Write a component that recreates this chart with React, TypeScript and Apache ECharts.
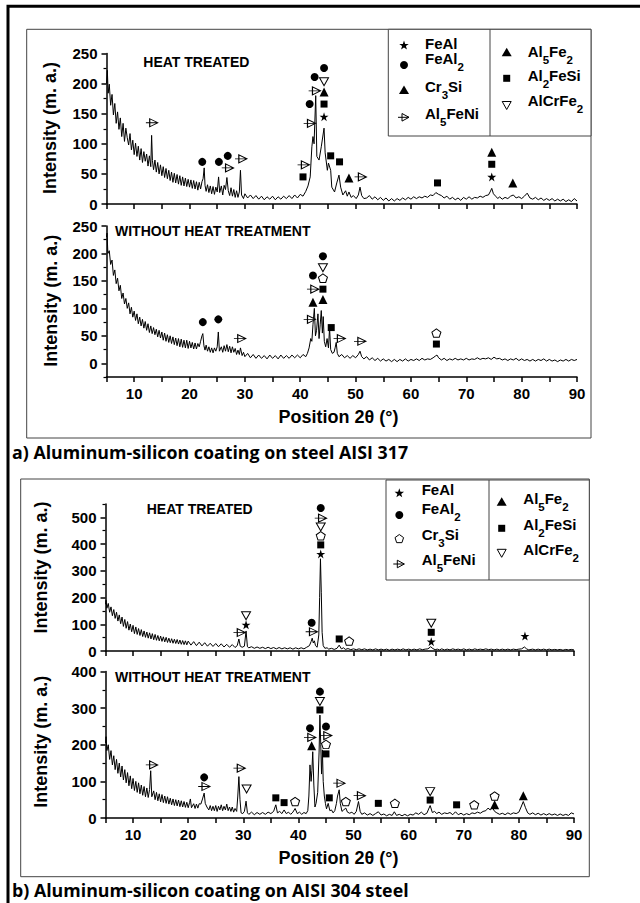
import React, { useEffect, useRef } from "react";
import * as echarts from "echarts";

const SANS = '"Liberation Sans", Arial, Helvetica, sans-serif';
const CAP = '"Open Sans", Lato, sans-serif';

// ---------- axes ----------
const xMin = 5;
const xMax = 90;
const xStep = 5;
const xLabelStep = 10;

const aTopYMajor = [0, 50, 100, 150, 200, 250];
const aTopYMinor = [25, 75, 125, 175, 225];
const aBotYMajor = [0, 50, 100, 150, 200, 250];
const aBotYMinor = [-25, 25, 75, 125, 175, 225];
const bTopYMajor = [0, 100, 200, 300, 400, 500];
const bTopYMinor = [50, 150, 250, 350, 450, 550];
const bBotYMajor = [0, 100, 200, 300, 400];
const bBotYMinor = [50, 150, 250, 350];
const yRanges = [[0, 250], [-25, 250], [0, 550], [0, 400]];

// ---------- diffraction patterns ----------
const aHeatTreated = [
  [5,200],[5.15,222],[5.3,184],[5.5,199],[5.75,164],[6,182],[6.25,148],[6.5,167],[6.75,134],[7,153],[7.25,124],[7.5,143],[7.75,112],[8,134],[8.25,104],[8.5,126],[8.75,110],[9,98],[9.25,117],[9.5,90],[9.75,106],[10,82],[10.25,101],[10.5,79],[10.75,96],[11,73],[11.25,92],[11.5,69],[11.75,87],[12,71],[12.25,83],[12.5,63],[12.75,80],[13,62],[13.15,114],[13.3,72],[13.5,57],[13.75,73],[14,53],[14.25,69],[14.5,50],[14.75,65],[15,47],[15.25,62],[15.5,44],[15.75,59],[16,42],[16.25,56],[16.5,39],[16.75,53],[17,36],[17.25,51],[17.5,35],[17.75,49],[18,33],[18.25,47],[18.5,31],[18.75,45],[19,30],[19.25,43],[19.5,29],[19.75,41],[20,28],[20.25,40],[20.5,26],[20.75,39],[21,25],[21.25,37],[21.5,23],[21.75,36],[22,25],[22.25,37],[22.45,42],[22.65,60],[22.8,31],[23,21],[23.25,32],[23.5,19],[23.75,30],[24,17],[24.25,29],[24.5,16],[24.75,28],[25,20],[25.25,45],[25.45,19],[25.75,30],[26,15],[26.25,31],[26.5,24],[26.75,44],[27,22],[27.25,14],[27.5,27],[27.75,13],[28,24],[28.25,11],[28.5,22],[28.75,11],[29,20],[29.2,56],[29.4,15],[29.75,9],[30,17],[30.5,10],[31,15],[31.5,9],[32,14],[32.5,8],[33,13],[33.5,7],[34,12],[34.5,8],[35,13],[35.5,7],[36,12],[36.5,8],[37,13],[37.5,9],[38,14],[38.5,9],[39,15],[39.5,10],[40,16],[40.5,13],[41,21],[41.4,30],[41.8,45],[42.1,95],[42.3,112],[42.5,100],[42.8,180],[43,79],[43.4,73],[43.8,95],[44.3,126],[44.5,85],[44.9,56],[45.1,68],[45.5,56],[45.7,28],[46.2,20],[46.6,35],[47,48],[47.3,28],[47.7,15],[48.2,22],[48.5,13],[48.8,20],[49.2,11],[49.6,14],[50.1,9],[50.5,15],[50.8,28],[51.1,14],[51.5,9],[52,10],[52.5,14],[53,8],[53.5,12],[54,7],[54.5,11],[55,6],[55.5,10],[56,5],[56.5,9],[57,5],[57.5,9],[58,6],[58.5,10],[59,7],[59.5,11],[60,8],[60.5,12],[61,9],[61.5,12],[62,10],[62.5,13],[63,11],[63.5,15],[64,14],[64.5,19],[65,16],[65.5,14],[66,10],[66.5,13],[67,8],[67.5,11],[68,7],[68.5,10],[69,6],[69.5,11],[70,8],[70.5,12],[71,8],[71.5,11],[72,10],[72.5,13],[73,11],[73.5,14],[74,15],[74.3,20],[74.6,26],[74.9,17],[75.3,13],[75.7,9],[76,12],[76.5,8],[77,11],[77.5,9],[78,13],[78.5,15],[79,10],[79.5,12],[80,9],[80.5,13],[81,18],[81.5,10],[82,8],[82.5,11],[83,7],[83.5,10],[84,6],[84.5,9],[85,6],[85.5,9],[86,5],[86.5,8],[87,5],[87.5,8],[88,4],[88.5,7],[89,4],[89.5,9],[90,5]
];

const aNoHeat = [
  [5,230],[5.1,237],[5.25,200],[5.5,205],[5.75,180],[6,188],[6.25,160],[6.5,170],[6.75,145],[7,155],[7.25,132],[7.5,142],[7.75,118],[8,128],[8.25,108],[8.5,118],[8.75,100],[9,110],[9.25,90],[9.5,102],[9.75,84],[10,95],[10.25,78],[10.5,90],[10.75,72],[11,84],[11.25,68],[11.5,80],[11.75,64],[12,76],[12.25,60],[12.5,72],[12.75,56],[13,68],[13.25,54],[13.5,65],[13.75,52],[14,62],[14.25,48],[14.5,60],[14.75,46],[15,57],[15.25,42],[15.5,55],[15.75,40],[16,52],[16.25,38],[16.5,50],[16.75,36],[17,48],[17.25,34],[17.5,46],[17.75,32],[18,45],[18.25,30],[18.5,44],[18.75,29],[19,42],[19.25,28],[19.5,42],[19.75,27],[20,40],[20.25,28],[20.5,38],[20.75,26],[21,37],[21.25,26],[21.5,36],[21.75,30],[22,40],[22.25,50],[22.4,54],[22.6,32],[22.8,24],[23,33],[23.25,22],[23.5,30],[23.75,20],[24,28],[24.25,19],[24.5,28],[24.75,22],[25,30],[25.2,57],[25.4,22],[25.75,30],[26,20],[26.25,32],[26.5,22],[26.75,34],[27,21],[27.25,31],[27.5,19],[27.75,30],[28,20],[28.25,27],[28.5,16],[28.75,24],[29,16],[29.2,28],[29.5,14],[29.75,20],[30,12],[30.5,18],[31,10],[31.5,16],[32,9],[32.5,15],[33,9],[33.5,14],[34,8],[34.5,15],[35,9],[35.5,14],[36,8],[36.5,15],[37,9],[37.5,14],[38,9],[38.5,15],[39,10],[39.5,15],[40,10],[40.5,16],[41,12],[41.3,18],[41.6,28],[41.9,45],[42.1,40],[42.3,70],[42.55,100],[42.75,50],[42.95,60],[43.2,90],[43.4,45],[43.6,70],[43.8,96],[44,55],[44.15,85],[44.35,40],[44.6,30],[44.85,45],[45.1,28],[45.3,64],[45.5,25],[45.8,18],[46.1,20],[46.3,28],[46.5,38],[46.7,18],[47,12],[47.5,16],[48,10],[48.5,14],[49,9],[49.5,14],[50,10],[50.5,16],[50.8,22],[51.1,12],[51.5,8],[52,12],[52.5,6],[53,10],[53.5,5],[54,9],[54.5,4],[55,8],[55.5,4],[56,7],[56.5,3],[57,7],[57.5,3],[58,7],[58.5,4],[59,8],[59.5,4],[60,7],[60.5,5],[61,8],[61.5,5],[62,9],[62.5,6],[63,8],[63.5,7],[64,10],[64.4,13],[64.7,15],[65,10],[65.5,6],[66,9],[66.5,5],[67,8],[67.5,6],[68,9],[68.5,6],[69,8],[69.5,6],[70,9],[70.5,6],[71,8],[71.5,7],[72,10],[72.5,7],[73,9],[73.5,8],[74,10],[74.5,7],[75,11],[75.5,8],[76,9],[76.5,6],[77,8],[77.5,5],[78,8],[78.5,6],[79,9],[79.5,5],[80,8],[80.5,5],[81,7],[81.5,4],[82,7],[82.5,4],[83,7],[83.5,5],[84,8],[84.5,4],[85,7],[85.5,4],[86,6],[86.5,3],[87,6],[87.5,4],[88,7],[88.5,4],[89,7],[89.5,5],[90,7]
];

const bHeatTreated = [
  [5,175],[5.1,190],[5.25,160],[5.5,178],[5.75,145],[6,165],[6.25,132],[6.5,155],[6.75,122],[7,145],[7.25,112],[7.5,135],[7.75,102],[8,127],[8.25,92],[8.5,118],[8.75,85],[9,110],[9.25,78],[9.5,101],[9.75,72],[10,96],[10.25,65],[10.5,90],[10.75,62],[11,84],[11.25,58],[11.5,80],[11.75,54],[12,75],[12.25,51],[12.5,71],[12.75,48],[13,68],[13.25,45],[13.5,65],[13.75,42],[14,62],[14.25,40],[14.5,58],[14.75,38],[15,56],[15.25,36],[15.5,53],[15.75,34],[16,51],[16.25,32],[16.5,48],[16.75,31],[17,46],[17.25,29],[17.5,44],[17.75,28],[18,43],[18.25,26],[18.5,41],[18.75,25],[19,39],[19.25,24],[19.5,38],[19.75,23],[20,37],[20.5,22],[21,35],[21.5,20],[22,33],[22.5,19],[23,31],[23.5,18],[24,29],[24.5,17],[25,28],[25.5,16],[26,27],[26.5,15],[27,25],[27.5,14],[28,24],[28.5,13],[28.9,20],[29.2,45],[29.45,18],[29.8,14],[30.2,18],[30.5,75],[30.75,16],[31,12],[31.5,16],[32,10],[32.5,15],[33,10],[33.5,14],[34,9],[34.5,14],[35,9],[35.5,13],[36,8],[36.5,13],[37,8],[37.5,12],[38,8],[38.5,12],[39,7],[39.5,12],[40,8],[40.5,12],[41,8],[41.5,14],[42,20],[42.3,35],[42.5,48],[42.7,30],[42.9,38],[43.1,20],[43.4,14],[43.7,60],[43.85,200],[44,345],[44.15,220],[44.3,70],[44.5,20],[44.8,10],[45.2,12],[45.5,7],[46,10],[46.5,6],[47,10],[47.4,22],[47.8,8],[48.2,12],[48.5,6],[49,9],[49.5,5],[50,8],[50.5,5],[51,8],[51.5,5],[52,8],[52.5,4],[53,7],[53.5,4],[54,8],[54.5,4],[55,7],[55.5,4],[56,7],[56.5,3],[57,7],[57.5,4],[58,7],[58.5,4],[59,8],[59.5,4],[60,7],[60.5,4],[61,7],[61.5,4],[62,8],[62.5,5],[63,7],[63.5,8],[64,16],[64.4,9],[64.8,5],[65.2,7],[65.6,4],[66,8],[66.5,4],[67,7],[67.5,4],[68,8],[68.5,5],[69,7],[69.5,4],[70,8],[70.5,4],[71,7],[71.5,4],[72,8],[72.5,5],[73,7],[73.5,5],[74,8],[74.5,5],[75,7],[75.5,4],[76,7],[76.5,4],[77,7],[77.5,4],[78,7],[78.5,4],[79,7],[79.5,5],[80,7],[80.5,8],[81,15],[81.4,8],[81.8,4],[82.5,7],[83,4],[83.5,7],[84,4],[84.5,7],[85,4],[85.5,7],[86,4],[86.5,6],[87,4],[87.5,6],[88,3],[88.5,6],[89,4],[89.5,6],[90,4]
];

const bNoHeat = [
  [5,205],[5.1,222],[5.25,184],[5.5,200],[5.75,160],[6,184],[6.25,145],[6.5,170],[6.75,132],[7,160],[7.25,122],[7.5,150],[7.75,112],[8,142],[8.25,104],[8.5,132],[8.75,96],[9,124],[9.25,88],[9.5,115],[9.75,80],[10,108],[10.25,75],[10.5,100],[10.75,70],[11,96],[11.25,66],[11.5,90],[11.75,62],[12,86],[12.25,58],[12.5,82],[12.75,56],[13,78],[13.2,129],[13.4,58],[13.75,74],[14,50],[14.25,70],[14.5,47],[14.75,66],[15,44],[15.25,64],[15.5,42],[15.75,60],[16,40],[16.25,58],[16.5,38],[16.75,54],[17,36],[17.25,52],[17.5,34],[17.75,50],[18,33],[18.25,49],[18.5,31],[18.75,47],[19,30],[19.25,45],[19.5,29],[19.75,43],[20,28],[20.25,42],[20.4,52],[20.6,28],[21,39],[21.25,26],[21.5,38],[21.75,27],[22,39],[22.3,38],[22.6,52],[22.9,68],[23.1,40],[23.4,30],[23.75,22],[24,34],[24.25,20],[24.5,32],[24.75,20],[25,34],[25.25,18],[25.5,32],[25.75,22],[26,36],[26.25,20],[26.5,32],[26.75,22],[27,38],[27.25,20],[27.5,30],[27.75,18],[28,30],[28.25,16],[28.5,26],[28.8,18],[29,60],[29.2,113],[29.4,50],[29.6,14],[29.9,12],[30.2,18],[30.5,46],[30.75,14],[31,10],[31.5,16],[32,9],[32.5,15],[33,10],[33.5,15],[34,10],[34.5,16],[35,12],[35.5,18],[35.9,36],[36.2,14],[36.6,18],[37,12],[37.4,22],[37.8,12],[38.2,16],[38.6,10],[39,16],[39.4,26],[39.8,12],[40.2,16],[40.6,10],[41,15],[41.4,12],[41.7,20],[41.9,60],[42.1,145],[42.3,100],[42.45,130],[42.6,181],[42.8,90],[43,30],[43.2,40],[43.5,70],[43.75,180],[43.9,281],[44.05,200],[44.2,120],[44.35,186],[44.5,100],[44.7,60],[44.9,40],[45.1,25],[45.4,40],[45.7,20],[46,22],[46.3,14],[46.6,20],[46.9,40],[47.1,60],[47.4,77],[47.6,40],[47.9,18],[48.2,22],[48.6,27],[48.9,16],[49.3,13],[49.7,16],[50.1,10],[50.5,18],[50.9,45],[51.2,18],[51.5,10],[52,14],[52.5,8],[53,12],[53.5,7],[54,12],[54.5,17],[55,8],[55.5,11],[56,6],[56.5,10],[57,7],[57.4,17],[57.8,7],[58.3,10],[58.8,6],[59.3,10],[59.8,6],[60.3,10],[60.8,8],[61.3,14],[61.8,10],[62.3,16],[62.8,9],[63.3,13],[63.9,34],[64.3,15],[64.7,18],[65.1,12],[65.5,16],[66,10],[66.5,14],[67,12],[67.5,15],[68,9],[68.5,17],[69,9],[69.5,13],[70,8],[70.5,12],[71,9],[71.5,14],[72,12],[72.5,16],[73,13],[73.5,18],[74,20],[74.4,27],[74.8,22],[75.2,28],[75.6,18],[76,14],[76.5,10],[77,13],[77.5,9],[78,14],[78.5,10],[79,14],[79.5,12],[80,16],[80.4,30],[80.8,45],[81.2,28],[81.6,14],[82,10],[82.5,14],[83,9],[83.5,13],[84,8],[84.5,12],[85,8],[85.5,12],[86,8],[86.5,11],[87,7],[87.5,11],[88,7],[88.5,10],[89,7],[89.5,14],[90,11]
];

// ---------- phase markers (x = 2θ, y = intensity) ----------
const aTopFeAl = [[44.3, 145], [74.6, 45]];
const aTopFeAl2 = [[22.3, 70], [25.3, 70], [26.9, 80], [41.7, 166], [42.6, 211], [44.3, 226]];
const aTopAl5Fe2 = [[44.3, 186], [48.8, 43], [74.6, 86], [78.4, 35]];
const aTopAl5FeNi = [[13.2, 135], [26.9, 60], [29.3, 75], [40.6, 65], [41.7, 134], [42.6, 188], [50.9, 45]];
const aTopAl2FeSi = [[40.5, 45], [44.3, 166], [45.5, 80], [47.1, 70], [64.8, 35], [74.6, 66]];
const aTopAlCrFe2 = [[44.3, 203]];

const aBotFeAl2 = [[22.4, 75], [25.2, 80], [42.3, 160], [44.1, 195]];
const aBotAl5Fe2 = [[42.3, 111], [44.1, 116]];
const aBotAl5FeNi = [[29.1, 45], [41.7, 80], [42.3, 135], [47.1, 45], [50.8, 40]];
const aBotAl2FeSi = [[44.1, 135], [45.6, 65], [64.6, 35]];
const aBotCr3Si = [[44.1, 155], [64.6, 55]];
const aBotAlCrFe2 = [[44.1, 174]];

const bTopFeAl = [[30.5, 98], [44.05, 363], [64.1, 35], [81.1, 56]];
const bTopFeAl2 = [[42.4, 106], [44.05, 535]];
const bTopAl5FeNi = [[29.3, 69], [42.4, 72], [44.05, 497]];
const bTopAlCrFe2 = [[30.5, 132], [44.05, 464], [64.1, 104]];
const bTopCr3Si = [[44.05, 431], [49.2, 37]];
const bTopAl2FeSi = [[44.05, 397], [47.4, 45], [64.1, 70]];

const bBotFeAl2 = [[22.9, 111], [42.1, 245], [43.9, 345], [45.0, 250]];
const bBotAl5FeNi = [[13.4, 145], [22.9, 86], [29.3, 136], [42.1, 220], [45.0, 225], [47.4, 95], [51.1, 61]];
const bBotAlCrFe2 = [[30.6, 79], [43.9, 318], [63.9, 72]];
const bBotAl2FeSi = [[35.9, 55], [37.4, 42], [43.9, 295], [45.0, 175], [45.6, 55], [54.5, 40], [63.9, 49], [68.7, 36]];
const bBotCr3Si = [[39.4, 45], [45.0, 201], [48.6, 45], [57.5, 40], [71.9, 36], [75.6, 60]];
const bBotAl5Fe2 = [[42.4, 197], [75.6, 36], [80.8, 61]];

const STAR = "path://M50,0L61.2,34.5L97.6,34.5L68.2,55.9L79.4,90.5L50,69.1L20.6,90.5L31.8,55.9L2.4,34.5L38.8,34.5Z";
const RTRI = "path://M32,8L100,50L32,92ZM0,50L100,50";
const DTRI = "path://M0,0L100,0L50,90Z";
const PENTA = "path://M50,0L97.6,34.5L79.4,90.5L20.6,90.5L2.4,34.5Z";

const SYM: any = {
  star: { symbol: STAR, size: 9, filled: true },
  circle: { symbol: "circle", size: 8, filled: true },
  tri: { symbol: "triangle", size: 9, filled: true },
  square: { symbol: "rect", size: 7, filled: true },
  rtri: { symbol: RTRI, size: [12, 8], filled: false },
  dtri: { symbol: DTRI, size: [9, 8], filled: false },
  penta: { symbol: PENTA, size: [9, 8.5], filled: false },
};

const markerSets: any[] = [
  [0, "star", aTopFeAl], [0, "circle", aTopFeAl2], [0, "tri", aTopAl5Fe2], [0, "rtri", aTopAl5FeNi], [0, "square", aTopAl2FeSi], [0, "dtri", aTopAlCrFe2],
  [1, "circle", aBotFeAl2], [1, "tri", aBotAl5Fe2], [1, "rtri", aBotAl5FeNi], [1, "square", aBotAl2FeSi], [1, "penta", aBotCr3Si], [1, "dtri", aBotAlCrFe2],
  [2, "star", bTopFeAl], [2, "circle", bTopFeAl2], [2, "rtri", bTopAl5FeNi], [2, "dtri", bTopAlCrFe2], [2, "penta", bTopCr3Si], [2, "square", bTopAl2FeSi],
  [3, "circle", bBotFeAl2], [3, "rtri", bBotAl5FeNi], [3, "dtri", bBotAlCrFe2], [3, "square", bBotAl2FeSi], [3, "penta", bBotCr3Si], [3, "tri", bBotAl5Fe2],
];

const patterns = [aHeatTreated, aNoHeat, bHeatTreated, bNoHeat];
const yMajor = [aTopYMajor, aBotYMajor, bTopYMajor, bBotYMajor];
const yMinor = [aTopYMinor, aBotYMinor, bTopYMinor, bBotYMinor];

// ---------- layout ----------
const grids = [
  { left: 106.5, top: 53.5, width: 470.5, height: 150.5 },
  { left: 106.5, top: 226, width: 470.5, height: 151 },
  { left: 105.5, top: 504, width: 468.5, height: 147 },
  { left: 105.5, top: 671.5, width: 468.5, height: 146.5 },
];
const showXLabels = [false, true, false, true];

const AXC = "#000";

function legendSymbol(kind: string, cx: number, cy: number): any[] {
  const k = "#000";
  if (kind === "circle") return [{ type: "circle", shape: { cx, cy, r: 4 }, style: { fill: k } }];
  if (kind === "square") return [{ type: "rect", shape: { x: cx - 3.5, y: cy - 3.5, width: 7, height: 7 }, style: { fill: k } }];
  if (kind === "tri") return [{ type: "polygon", shape: { points: [[cx, cy - 4.5], [cx + 5, cy + 4], [cx - 5, cy + 4]] }, style: { fill: k } }];
  if (kind === "dtri") return [{ type: "polygon", shape: { points: [[cx - 4.5, cy - 4], [cx + 4.5, cy - 4], [cx, cy + 4]] }, style: { fill: "#fff", stroke: k, lineWidth: 1 } }];
  if (kind === "rtri")
    return [
      { type: "polygon", shape: { points: [[cx - 2, cy - 3.8], [cx + 5, cy], [cx - 2, cy + 3.8]] }, style: { fill: "#fff", stroke: k, lineWidth: 1 } },
      { type: "line", shape: { x1: cx - 6, y1: cy, x2: cx + 5, y2: cy }, style: { stroke: k, lineWidth: 1 } },
    ];
  if (kind === "star") {
    const pts: number[][] = [];
    for (let i = 0; i < 10; i++) {
      const r = i % 2 === 0 ? 5 : 2;
      const a = -Math.PI / 2 + (i * Math.PI) / 5;
      pts.push([cx + r * Math.cos(a), cy + r * Math.sin(a)]);
    }
    return [{ type: "polygon", shape: { points: pts }, style: { fill: k } }];
  }
  const pts: number[][] = [];
  for (let i = 0; i < 5; i++) {
    const a = -Math.PI / 2 + (i * 2 * Math.PI) / 5;
    pts.push([cx + 4.5 * Math.cos(a), cy + 4.5 * Math.sin(a)]);
  }
  return [{ type: "polygon", shape: { points: pts }, style: { fill: "#fff", stroke: k, lineWidth: 1 } }];
}

const RICH = {
  n: { fontFamily: SANS, fontWeight: "bold", fontSize: 15, lineHeight: 22, verticalAlign: "top", fill: "#000" },
  s: { fontFamily: SANS, fontWeight: "bold", fontSize: 11.5, lineHeight: 12, verticalAlign: "bottom", fill: "#000" },
};

function legendText(rich: string, x: number, y: number): any {
  return {
    type: "text",
    x,
    y,
    style: { text: rich, rich: RICH, align: "left", verticalAlign: "middle", textAlign: "left", textVerticalAlign: "middle" },
  };
}

function plainText(text: string, x: number, y: number, size: number, family: string, extra: any = {}): any {
  return {
    type: "text",
    x,
    y,
    ...extra,
    style: {
      text,
      fill: "#000",
      fontFamily: family,
      fontWeight: "bold",
      fontSize: size,
      align: extra.align || "left",
      verticalAlign: "middle",
      textAlign: extra.align || "left",
      textVerticalAlign: "middle",
    },
  };
}

const legendA: any[] = [
  ["star", "{n|FeAl}", 404, 45.5, 425, 46.5],
  ["circle", "{n|FeAl}{s|2}", 404, 65, 425, 62],
  ["tri", "{n|Cr}{s|3}{n|Si}", 404, 90, 425, 90],
  ["rtri", "{n|Al}{s|5}{n|FeNi}", 404, 117.3, 425, 116.7],
  ["tri", "{n|Al}{s|5}{n|Fe}{s|2}", 506.7, 52.3, 527.7, 55],
  ["square", "{n|Al}{s|2}{n|FeSi}", 506.7, 78.3, 527.7, 79],
  ["dtri", "{n|AlCrFe}{s|2}", 506.7, 105.5, 527.7, 104],
];
const legendB: any[] = [
  ["star", "{n|FeAl}", 399.3, 493.3, 421.7, 493.3],
  ["circle", "{n|FeAl}{s|2}", 399.3, 515, 421.7, 511.7],
  ["penta", "{n|Cr}{s|3}{n|Si}", 399.3, 539, 421.7, 538.3],
  ["rtri", "{n|Al}{s|5}{n|FeNi}", 399.3, 564, 421.7, 563.3],
  ["tri", "{n|Al}{s|5}{n|Fe}{s|2}", 501.7, 501.7, 523.3, 501.7],
  ["square", "{n|Al}{s|2}{n|FeSi}", 501.7, 528.3, 523.3, 528.3],
  ["dtri", "{n|AlCrFe}{s|2}", 501.7, 553.3, 523.3, 553.3],
];

function buildOption(): any {
  const xAxis = grids.map((_, i) => ({
    type: "value",
    gridIndex: i,
    min: xMin,
    max: xMax,
    interval: xStep,
    position: "bottom",
    axisLine: { show: true, onZero: false, lineStyle: { color: AXC, width: 1.5 } },
    axisTick: { show: true, inside: false, length: 5, lineStyle: { color: AXC, width: 1.5 } },
    axisLabel: {
      show: showXLabels[i],
      formatter: (v: number) => (v % xLabelStep === 0 ? String(v) : ""),
      color: "#000",
      fontFamily: SANS,
      fontWeight: "bold",
      fontSize: 15,
      margin: 9,
    },
    splitLine: { show: false },
  }));

  const yAxis: any[] = [];
  grids.forEach((_, i) => {
    yAxis.push({
      type: "value",
      gridIndex: i,
      min: yRanges[i][0],
      max: yRanges[i][1],
      position: "left",
      axisLine: { show: true, onZero: false, lineStyle: { color: AXC, width: 1.5 } },
      axisTick: { show: true, length: 5, customValues: yMajor[i], lineStyle: { color: AXC, width: 1.5 } },
      axisLabel: { customValues: yMajor[i], color: "#000", fontFamily: SANS, fontWeight: "bold", fontSize: 15, margin: 9 },
      splitLine: { show: false },
    });
  });
  grids.forEach((_, i) => {
    yAxis.push({
      type: "value",
      gridIndex: i,
      min: yRanges[i][0],
      max: yRanges[i][1],
      position: "left",
      axisLine: { show: false, onZero: false },
      axisTick: { show: true, length: 3, customValues: yMinor[i], lineStyle: { color: AXC, width: 1.2 } },
      axisLabel: { show: false },
      splitLine: { show: false },
    });
  });

  const series: any[] = patterns.map((d, i) => ({
    type: "line",
    xAxisIndex: i,
    yAxisIndex: i,
    data: d,
    showSymbol: false,
    symbol: "none",
    smooth: false,
    lineStyle: { color: "#000", width: 1 },
    z: 2,
    silent: true,
  }));
  markerSets.forEach(([g, kind, data]) => {
    const s = SYM[kind];
    series.push({
      type: "scatter",
      xAxisIndex: g,
      yAxisIndex: g,
      data,
      symbol: s.symbol,
      symbolSize: s.size,
      itemStyle: s.filled
        ? { color: "#000", opacity: 1 }
        : { color: "#fff", borderColor: "#000", borderWidth: 1, opacity: 1 },
      z: 3,
      silent: true,
    });
  });

  const graphic: any[] = [];
  graphic.push({ type: "rect", shape: { x: 8, y: 6.3, width: 660, height: 920 }, style: { fill: "none", stroke: "#000", lineWidth: 3 } });
  graphic.push({ type: "rect", shape: { x: 26.7, y: 29.3, width: 564.3, height: 408.7 }, style: { fill: "none", stroke: "#444", lineWidth: 1 } });
  graphic.push({ type: "rect", shape: { x: 20.7, y: 479, width: 568.6, height: 397.7 }, style: { fill: "none", stroke: "#444", lineWidth: 1 } });
  graphic.push({ type: "rect", shape: { x: 388.3, y: 29.3, width: 202.7, height: 106.7 }, style: { fill: "#fff", stroke: "#444", lineWidth: 1 } });
  graphic.push({ type: "line", shape: { x1: 490, y1: 29.3, x2: 490, y2: 136 }, style: { stroke: "#444", lineWidth: 1 } });
  graphic.push({ type: "rect", shape: { x: 386, y: 480, width: 203.3, height: 100 }, style: { fill: "#fff", stroke: "#444", lineWidth: 1 } });
  graphic.push({ type: "line", shape: { x1: 489, y1: 480, x2: 489, y2: 580 }, style: { stroke: "#444", lineWidth: 1 } });

  [...legendA, ...legendB].forEach(([kind, label, sx, sy, tx, ty]) => {
    graphic.push(...legendSymbol(kind, sx, sy));
    graphic.push(legendText(label, tx, ty));
  });

  graphic.push(plainText("HEAT TREATED", 143.3, 62, 14, SANS));
  graphic.push(plainText("WITHOUT HEAT TREATMENT", 115, 231, 14, SANS));
  graphic.push(plainText("HEAT TREATED", 146.7, 509.2, 14, SANS));
  graphic.push(plainText("WITHOUT HEAT TREATMENT", 115, 676.7, 14, SANS));

  const yName = "Intensity (m. a.)";
  graphic.push(plainText(yName, 50, 128, 18, SANS, { rotation: Math.PI / 2, align: "center" }));
  graphic.push(plainText(yName, 50.8, 300.8, 18, SANS, { rotation: Math.PI / 2, align: "center" }));
  graphic.push(plainText(yName, 41, 567.5, 18, SANS, { rotation: Math.PI / 2, align: "center" }));
  graphic.push(plainText(yName, 41, 741.7, 18, SANS, { rotation: Math.PI / 2, align: "center" }));
  graphic.push(plainText("Position 2θ (°)", 338.5, 417, 18, SANS, { align: "center" }));
  graphic.push(plainText("Position 2θ (°)", 338.5, 858, 18, SANS, { align: "center" }));

  graphic.push(plainText("a) Aluminum-silicon coating on steel AISI 317", 12, 452, 17.8, CAP));
  graphic.push(plainText("b) Aluminum-silicon coating on AISI 304 steel", 12, 890, 17.8, CAP));

  return {
    animation: false,
    backgroundColor: "#fff",
    grid: grids.map((g) => ({ ...g, containLabel: false, outerBoundsMode: "none" })),
    xAxis,
    yAxis,
    series,
    graphic: { elements: graphic },
  };
}

export default function App() {
  const ref = useRef<HTMLDivElement>(null);
  useEffect(() => {
    if (!ref.current) return;
    const chart = echarts.init(ref.current, null, { renderer: "svg" });
    chart.setOption(buildOption());
    return () => chart.dispose();
  }, []);
  return (
    <div
      ref={ref}
      style={{ position: "absolute", left: 0, top: 0, width: 640, height: 903, background: "#fff" }}
    />
  );
}
